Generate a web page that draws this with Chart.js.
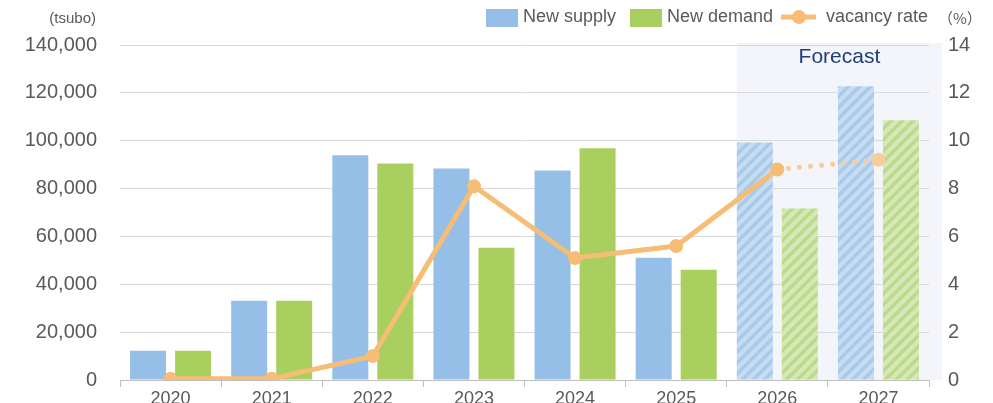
<!DOCTYPE html>
<html>
<head>
<meta charset="utf-8">
<script src="https://cdn.jsdelivr.net/npm/chart.js@4.4.0/dist/chart.umd.min.js"></script>
<style>
  html, body { margin: 0; padding: 0; background: #fff; overflow: hidden; }
  #wrap { width: 993px; height: 403px; position: relative; overflow: hidden; }
</style>
</head>
<body>
<!-- the year labels are cut by the bottom edge in the original, so the canvas runs a bit past it -->
<div id="wrap"><canvas id="officeChart" width="993" height="415"></canvas></div>
<script>
// data
var years = ['2020', '2021', '2022', '2023', '2024', '2025', '2026', '2027'];
var newSupply = [12200, 33100, 93900, 88400, 87600, 51100, 99300, 122800];
var newDemand = [12200, 33100, 90500, 55300, 96800, 46100, 71700, 108600];
var vacancyRate = [0.05, 0.05, 1.0, 8.1, 5.1, 5.6, 8.8, 9.2];
var forecastFrom = 6; // index of first forecast year

var FONT = "'Liberation Sans', Arial, sans-serif";
var TEXT = '#595959';
var BLUE = '#95BFE6';
var GREEN = '#A9CF5E';
var ORANGE = '#F6BD76';
var ORANGE_LIGHT = '#F7CD9C';

// light fill with "/" stripes for the forecast bars
function stripes(base, stripe) {
    var n = 11;
    var c = document.createElement('canvas');
    c.width = n; c.height = n;
    var g = c.getContext('2d');
    g.fillStyle = base;
    g.fillRect(0, 0, n, n);
    g.strokeStyle = stripe;
    g.lineWidth = 3.5;
    g.beginPath();
    [-n, 0, n].forEach(function(o) {
        g.moveTo(o - 2, n + 2);
        g.lineTo(o + n + 2, -2);
    });
    g.stroke();
    return g.createPattern(c, 'repeat');
}

var blueFill = years.map(function(y, i) {
    return i >= forecastFrom ? stripes('#C8DCF1', '#A8CAEB') : BLUE;
});
var greenFill = years.map(function(y, i) {
    return i >= forecastFrom ? stripes('#D6E8B8', '#BBDA8A') : GREEN;
});
var pointFill = years.map(function(y, i) {
    return i > forecastFrom ? ORANGE_LIGHT : ORANGE;
});

// forecast shading + extra labels + legend
var extras = {
    id: 'extras',
    beforeDraw: function(chart) {
        var ctx = chart.ctx;
        var bar = chart.getDatasetMeta(0).data[forecastFrom];
        var area = chart.chartArea;
        var left = bar.x - bar.width / 2;
        ctx.save();
        ctx.fillStyle = '#F3F5FB';
        ctx.fillRect(left, area.top - 2, area.right + 13 - left, area.bottom - area.top + 2);
        ctx.restore();
    },
    afterDraw: function(chart) {
        var ctx = chart.ctx;
        var area = chart.chartArea;
        var bar = chart.getDatasetMeta(0).data[forecastFrom];
        var left = bar.x - bar.width / 2;
        ctx.save();
        ctx.textBaseline = 'middle';

        ctx.fillStyle = '#203D7A';
        ctx.font = '21px ' + FONT;
        ctx.textAlign = 'center';
        ctx.fillText('Forecast', (left + area.right + 13) / 2, 57);

        ctx.fillStyle = TEXT;
        ctx.font = '15px ' + FONT;
        ctx.textAlign = 'right';
        ctx.fillText('(tsubo)', 96, 19);
        ctx.textAlign = 'left';
        ctx.font = "15px 'Noto Sans CJK JP', " + FONT;
        ctx.fillText('（%）', 938, 18);

        // legend
        ctx.font = '18px ' + FONT;
        ctx.fillStyle = BLUE;
        ctx.fillRect(486, 9, 32, 18);
        ctx.fillStyle = TEXT;
        ctx.fillText('New supply', 523, 17);
        ctx.fillStyle = GREEN;
        ctx.fillRect(630, 9, 32, 18);
        ctx.fillStyle = TEXT;
        ctx.fillText('New demand', 667, 17);
        ctx.strokeStyle = ORANGE;
        ctx.lineWidth = 5;
        ctx.beginPath();
        ctx.moveTo(781, 17); ctx.lineTo(816, 17);
        ctx.stroke();
        ctx.fillStyle = ORANGE;
        ctx.beginPath();
        ctx.arc(799, 17, 7, 0, Math.PI * 2);
        ctx.fill();
        ctx.fillStyle = TEXT;
        ctx.fillText('vacancy rate', 826, 17);
        ctx.restore();
    }
};

var ctx = document.getElementById('officeChart').getContext('2d');
var chart = new Chart(ctx, {
    type: 'bar',
    data: {
        labels: years,
        datasets: [{
            label: 'New supply',
            data: newSupply,
            backgroundColor: blueFill,
            yAxisID: 'y',
            order: 2
        }, {
            label: 'New demand',
            data: newDemand,
            backgroundColor: greenFill,
            yAxisID: 'y',
            order: 2
        }, {
            type: 'line',
            label: 'vacancy rate',
            data: vacancyRate,
            yAxisID: 'y2',
            borderColor: ORANGE,
            borderWidth: 5,
            borderCapStyle: 'round',
            pointRadius: 7,
            pointBorderWidth: 0,
            pointBackgroundColor: pointFill,
            pointHoverRadius: 7,
            tension: 0,
            order: 1,
            segment: {
                borderDash: function(c) { return c.p0DataIndex >= forecastFrom ? [0.1, 11] : undefined; },
                borderColor: function(c) { return c.p0DataIndex >= forecastFrom ? ORANGE_LIGHT : undefined; }
            }
        }]
    },
    options: {
        responsive: false,
        animation: false,
        layout: { padding: { top: 45, left: 0, right: 0, bottom: 0 } },
        datasets: {
            bar: { categoryPercentage: 0.89, barPercentage: 0.8 }
        },
        plugins: {
            legend: { display: false },
            tooltip: { enabled: false }
        },
        scales: {
            x: {
                afterFit: function(s) { s.height = 24; },
                grid: { drawOnChartArea: false, tickLength: 7, color: '#BFBFBF' },
                border: { color: '#BFBFBF' },
                ticks: { color: TEXT, font: { family: FONT, size: 18 }, padding: 1 }
            },
            y: {
                position: 'left',
                min: 0,
                max: 140000,
                afterFit: function(s) { s.width = 120; },
                grid: { color: '#D9D9D9', drawTicks: false },
                border: { display: false },
                ticks: {
                    stepSize: 20000,
                    padding: 23,
                    color: TEXT,
                    font: { family: FONT, size: 20 },
                    callback: function(v) { return v.toLocaleString('en-US'); }
                }
            },
            y2: {
                position: 'right',
                min: 0,
                max: 14,
                afterFit: function(s) { s.width = 64; },
                grid: { drawOnChartArea: false, drawTicks: false },
                border: { display: false },
                ticks: { stepSize: 2, padding: 19, color: TEXT, font: { family: FONT, size: 20 } }
            }
        }
    },
    plugins: [extras]
});
</script>
</body>
</html>
